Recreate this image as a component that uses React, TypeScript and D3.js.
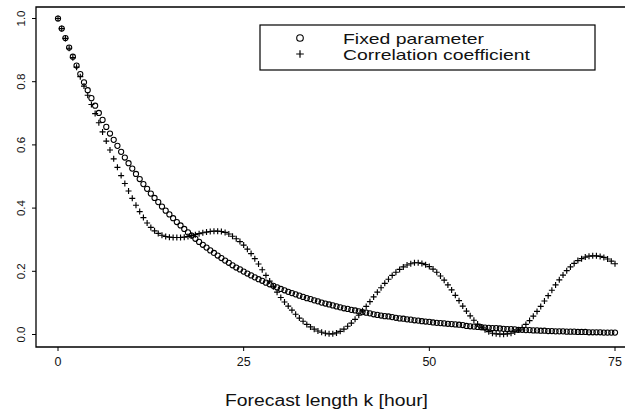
import React from "react";
import * as d3 from "d3";

const hours: number[] = d3.range(0, 75.0001, 0.5);

const fixedParameter: number[] = [
  1.0, 0.968, 0.938, 0.908, 0.879, 0.851, 0.824, 0.798, 0.773, 0.748,
  0.724, 0.701, 0.679, 0.657, 0.636, 0.616, 0.597, 0.578, 0.56, 0.542,
  0.525, 0.508, 0.492, 0.476, 0.461, 0.446, 0.432, 0.419, 0.405, 0.392,
  0.38, 0.368, 0.356, 0.345, 0.334, 0.323, 0.313, 0.303, 0.293, 0.284,
  0.275, 0.266, 0.258, 0.25, 0.242, 0.234, 0.227, 0.219, 0.212, 0.206,
  0.199, 0.193, 0.187, 0.181, 0.175, 0.17, 0.164, 0.159, 0.154, 0.149,
  0.144, 0.14, 0.135, 0.131, 0.127, 0.123, 0.119, 0.115, 0.112, 0.108,
  0.105, 0.101, 0.098, 0.095, 0.092, 0.089, 0.086, 0.083, 0.081, 0.078,
  0.076, 0.073, 0.071, 0.069, 0.067, 0.064, 0.062, 0.06, 0.058, 0.057,
  0.055, 0.053, 0.051, 0.05, 0.048, 0.047, 0.045, 0.044, 0.042, 0.041,
  0.04, 0.038, 0.037, 0.036, 0.035, 0.034, 0.033, 0.032, 0.031, 0.03,
  0.027, 0.026, 0.025, 0.024, 0.023, 0.022, 0.021, 0.02, 0.02, 0.019,
  0.018, 0.017, 0.017, 0.016, 0.015, 0.015, 0.014, 0.014, 0.013, 0.013,
  0.012, 0.012, 0.011, 0.011, 0.01, 0.01, 0.01, 0.009, 0.009, 0.009,
  0.008, 0.008, 0.008, 0.007, 0.007, 0.007, 0.007, 0.006, 0.006, 0.006,
  0.006,
];

const correlationCoefficient: number[] = [
  1.0, 0.968, 0.937, 0.906, 0.876, 0.846, 0.816, 0.786, 0.757, 0.728,
  0.699, 0.67, 0.641, 0.612, 0.584, 0.556, 0.529, 0.503, 0.478, 0.454,
  0.431, 0.409, 0.389, 0.37, 0.353, 0.339, 0.328, 0.32, 0.314, 0.31,
  0.308, 0.307, 0.307, 0.307, 0.308, 0.31, 0.313, 0.316, 0.319, 0.322,
  0.324, 0.326, 0.327, 0.327, 0.326, 0.323, 0.318, 0.311, 0.303, 0.294,
  0.283, 0.27, 0.256, 0.24, 0.223, 0.205, 0.187, 0.169, 0.151, 0.134,
  0.117, 0.103, 0.09, 0.077, 0.064, 0.052, 0.042, 0.032, 0.024, 0.017,
  0.011, 0.007, 0.004, 0.002, 0.002, 0.005, 0.01, 0.017, 0.026, 0.036,
  0.048, 0.061, 0.075, 0.089, 0.104, 0.119, 0.134, 0.148, 0.162, 0.175,
  0.187, 0.197, 0.206, 0.214, 0.22, 0.224, 0.227, 0.227, 0.225, 0.221,
  0.215, 0.207, 0.197, 0.185, 0.172, 0.157, 0.141, 0.124, 0.107, 0.09,
  0.074, 0.059, 0.045, 0.033, 0.023, 0.015, 0.009, 0.004, 0.002, 0.001,
  0.001, 0.002, 0.004, 0.008, 0.014, 0.022, 0.032, 0.044, 0.058, 0.073,
  0.089, 0.106, 0.123, 0.14, 0.157, 0.173, 0.188, 0.202, 0.214, 0.225,
  0.234, 0.24, 0.245, 0.248, 0.249, 0.249, 0.247, 0.244, 0.239, 0.232,
  0.224,
];

const xTicks: number[] = [0, 25, 50, 75];
const yTicks: number[] = [0, 0.2, 0.4, 0.6, 0.8, 1.0];
const legendLabels: string[] = ["Fixed parameter", "Correlation coefficient"];
const xTitle = "Forecast length k [hour]";

const FONT = "'Liberation Sans', Arial, Helvetica, sans-serif";

export default function App() {
  const x = d3.scaleLinear().domain([0, 75]).range([58, 615]);
  const y = d3.scaleLinear().domain([0, 1]).range([334.5, 18.5]);

  const boxLeft = 36;
  const boxTop = 7;
  const boxBottom = 347;
  const boxRight = 626;

  const plusPath = (cx: number, cy: number, s: number) =>
    `M${cx - s},${cy}H${cx + s}M${cx},${cy - s}V${cy + s}`;

  return (
    <svg
      width={625}
      height={411}
      viewBox="0 0 625 411"
      style={{ position: "absolute", left: 0, top: 0, background: "#fff" }}
    >
      <rect x={0} y={0} width={625} height={411} fill="#fff" />
      <path
        d={`M${boxRight},${boxTop}H${boxLeft}V${boxBottom}H${boxRight}`}
        fill="none"
        stroke="#000"
        strokeWidth={1.3}
      />
      {yTicks.map((t) => (
        <g key={"y" + t}>
          <line x1={boxLeft - 4} x2={boxLeft} y1={y(t)} y2={y(t)} stroke="#000" strokeWidth={1} />
          <text
            transform={`translate(${21},${y(t)}) rotate(-90)`}
            textAnchor="middle"
            dominantBaseline="central"
            fontFamily={FONT}
            fontSize={11.5}
            fill="#111"
          >
            {t.toFixed(1)}
          </text>
        </g>
      ))}
      {xTicks.map((t) => (
        <g key={"x" + t}>
          <line x1={x(t)} x2={x(t)} y1={boxBottom} y2={boxBottom + 4} stroke="#000" strokeWidth={1} />
          <text
            x={x(t)}
            y={366}
            textAnchor="middle"
            fontFamily={FONT}
            fontSize={12.5}
            fill="#111"
          >
            {t}
          </text>
        </g>
      ))}
      <text
        x={225}
        y={406}
        fontFamily={FONT}
        fontSize={16}
        textLength={203}
        lengthAdjust="spacingAndGlyphs"
        fill="#111"
      >
        {xTitle}
      </text>
      {hours.map((h, i) => (
        <circle
          key={"c" + i}
          cx={x(h)}
          cy={y(fixedParameter[i])}
          r={2.6}
          fill="none"
          stroke="#000"
          strokeWidth={1.05}
        />
      ))}
      {hours.map((h, i) => (
        <path
          key={"p" + i}
          d={plusPath(x(h), y(correlationCoefficient[i]), 3)}
          fill="none"
          stroke="#000"
          strokeWidth={1.15}
        />
      ))}
      <rect x={260} y={25} width={335} height={45} fill="#fff" stroke="#000" strokeWidth={1.2} />
      <circle cx={300} cy={38} r={3.3} fill="none" stroke="#000" strokeWidth={1.1} />
      <path d={plusPath(300, 54, 3.8)} fill="none" stroke="#000" strokeWidth={1.2} />
      <text
        x={343}
        y={44}
        fontFamily={FONT}
        fontSize={15}
        textLength={141}
        lengthAdjust="spacingAndGlyphs"
        fill="#111"
      >
        {legendLabels[0]}
      </text>
      <text
        x={343}
        y={60}
        fontFamily={FONT}
        fontSize={15}
        textLength={187}
        lengthAdjust="spacingAndGlyphs"
        fill="#111"
      >
        {legendLabels[1]}
      </text>
    </svg>
  );
}
